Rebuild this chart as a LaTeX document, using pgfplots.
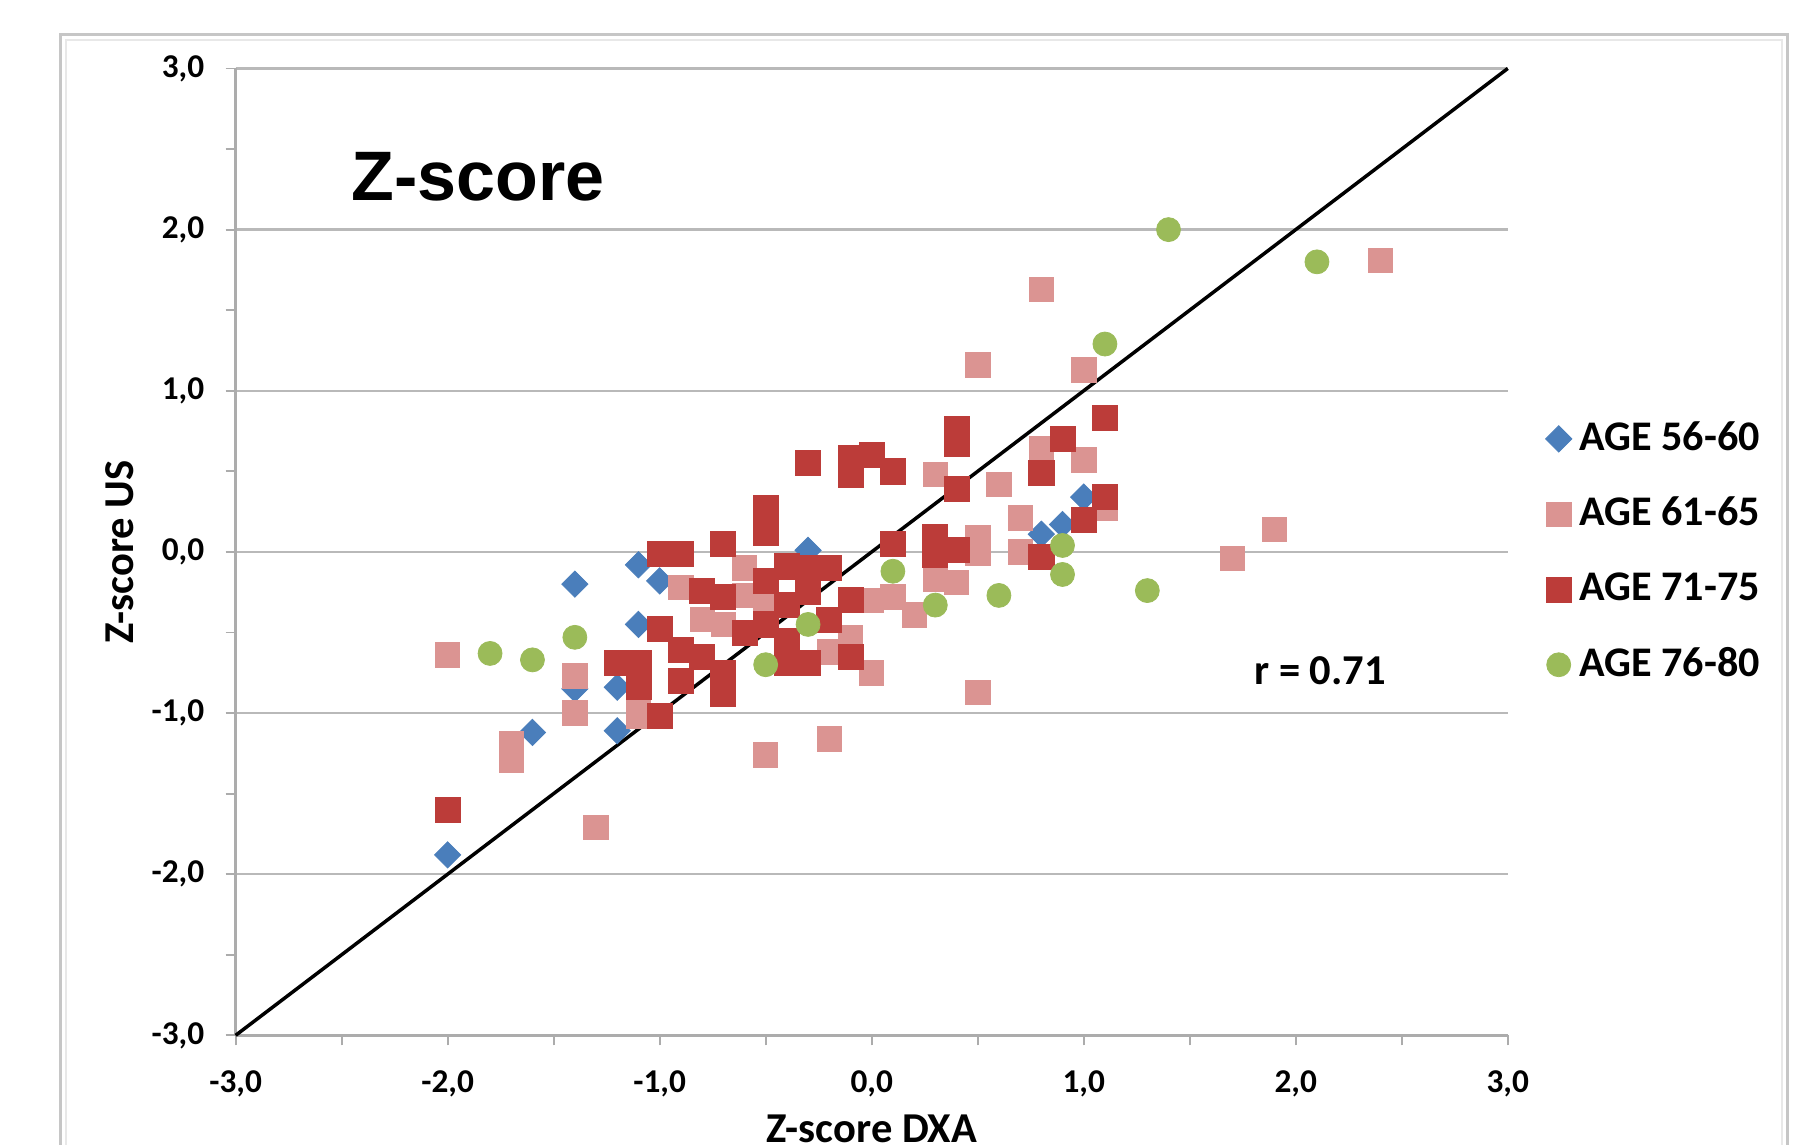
\documentclass[border=0pt]{standalone}
\usepackage{pgfplots}
\pgfplotsset{compat=1.18}
\usepackage{fontspec}
\setmainfont{Carlito}
\newfontfamily\arialfont{Liberation Sans}
\definecolor{bluec}{RGB}{74,126,187}
\definecolor{pinkc}{RGB}{219,148,146}
\definecolor{redc}{RGB}{188,60,57}
\definecolor{greenc}{RGB}{155,187,89}

\begin{document}
\begin{tikzpicture}[x=1pt,y=1pt]
\begin{scope}
\clip (0,0) rectangle (470.4,295.8);
\fill[white] (0,0) rectangle (470.4,295.8);
% chart frame
\draw[gray!45, line width=0.8pt] (15.6,-10) rectangle (462,286.8);
\draw[gray!18, line width=0.6pt] (17,-10) rectangle (460.6,285.4);

\begin{axis}[
    at={(60.9pt,28.2pt)}, anchor=south west,
    scale only axis,
    width=328.8pt, height=249.9pt,
    xmin=-3, xmax=3, ymin=-3, ymax=3,
    axis lines*=left,
    axis line style={gray!65, line width=0.6pt},
    xtick={-3,-2,...,3},
    ytick={-3,-2,...,3},
    minor xtick={-2.5,-1.5,...,2.5},
    minor ytick={-2.5,-1.5,...,2.5},
    xticklabels={{-3,0},{-2,0},{-1,0},{0,0},{1,0},{2,0},{3,0}},
    yticklabels={{-3,0},{-2,0},{-1,0},{0,0},{1,0},{2,0},{3,0}},
    tick align=outside,
    major tick length=2.6pt, minor tick length=2.6pt,
    tick style={gray!65, line width=0.5pt},
    ymajorgrids,
    major grid style={gray!55, line width=0.6pt},
    ticklabel style={font=\bfseries\fontsize{8.6}{10}\selectfont, text=black},
    xticklabel style={yshift=-3pt},
    yticklabel style={xshift=-2pt},
    clip=false,
    legend style={at={(1.020,0.5)}, anchor=west, draw=none, fill=none,
        font=\bfseries\fontsize{10.9}{13}\selectfont, row sep=6.6pt,
        cells={anchor=west}},
    legend image code/.code={\draw[mark repeat=2,mark phase=2,#1] plot coordinates {(0cm,0cm) (0.13cm,0cm) (0.26cm,0cm)};},
]

% AGE 56-60
\addplot[only marks, color=bluec, mark=square*, mark size=2.4pt,
    mark options={rotate=45, line width=0.2pt}] coordinates {
    (-2.0,-1.88) (-1.6,-1.12) (-1.4,-0.20) (-1.4,-0.85) (-1.2,-0.84)
    (-1.2,-1.11) (-1.1,-0.08) (-1.1,-0.45) (-1.0,-0.18) (-0.3,0.01)
    (0.8,0.11) (0.9,0.17) (1.0,0.34)
};
\addlegendentry{AGE 56-60}

% AGE 61-65
\addplot[only marks, color=pinkc, mark=square*, mark size=3.15pt,
    mark options={line width=0.2pt}] coordinates {
    (-2.0,-0.64) (-1.7,-1.19) (-1.7,-1.29) (-1.4,-0.77) (-1.4,-1.00)
    (-1.3,-1.71) (-1.1,-0.92) (-1.1,-1.02) (-0.9,-0.22) (-0.6,-0.10)
    (-0.6,-0.27) (-0.5,-0.34) (-0.8,-0.42) (-0.7,-0.45) (-0.1,-0.55)
    (-0.2,-0.62) (-0.1,-0.53) (0.0,-0.30) (0.1,-0.28) (0.2,-0.39)
    (0.0,-0.75) (-0.2,-1.16) (-0.5,-1.26) (0.3,0.48) (0.3,-0.17)
    (0.4,-0.19) (0.5,0.09) (0.5,-0.01) (0.5,-0.87) (0.5,1.16)
    (0.6,0.42) (0.7,0.21) (0.7,0.00) (0.8,0.64) (0.8,1.63)
    (1.0,0.57) (1.0,1.13) (1.1,0.27) (1.7,-0.04) (1.9,0.14)
    (2.4,1.81)
};
\addlegendentry{AGE 61-65}

% AGE 71-75
\addplot[only marks, color=redc, mark=square*, mark size=3.25pt,
    mark options={line width=0.2pt}] coordinates {
    (-2.0,-1.60) (-1.2,-0.69) (-1.1,-0.69) (-1.1,-0.84) (-1.0,-1.02)
    (-1.0,-0.48) (-1.0,-0.01) (-0.9,-0.01) (-0.7,0.05) (-0.5,0.27)
    (-0.5,0.12) (-0.5,-0.18) (-0.4,-0.09) (-0.4,-0.33) (-0.3,-0.10)
    (-0.3,-0.25) (-0.2,-0.10) (-0.8,-0.24) (-0.7,-0.28) (-0.1,-0.30)
    (-0.2,-0.42) (-0.9,-0.61) (-0.9,-0.80) (-0.8,-0.65) (-0.7,-0.75)
    (-0.7,-0.88) (-0.6,-0.50) (-0.5,-0.45) (-0.4,-0.55) (-0.4,-0.69)
    (-0.3,-0.69) (-0.1,-0.65) (-0.3,0.55) (-0.1,0.58) (-0.1,0.48)
    (0.0,0.60) (0.1,0.50) (0.1,0.05) (0.3,0.09) (0.3,-0.02)
    (0.4,0.01) (0.4,0.76) (0.4,0.67) (0.4,0.39) (0.8,0.49)
    (0.8,-0.03) (0.9,0.70) (1.0,0.20) (1.1,0.34) (1.1,0.83)
};
\addlegendentry{AGE 71-75}

% AGE 76-80
\addplot[only marks, color=greenc, mark=*, mark size=3.1pt,
    mark options={line width=0.2pt}] coordinates {
    (-1.8,-0.63) (-1.6,-0.67) (-1.4,-0.53) (-0.5,-0.70) (-0.3,-0.45)
    (0.1,-0.12) (0.3,-0.33) (0.6,-0.27) (0.9,0.04) (0.9,-0.14)
    (1.1,1.29) (1.3,-0.24) (1.4,2.00) (2.1,1.80)
};
\addlegendentry{AGE 76-80}

% identity line
\addplot[black, line width=0.9pt, forget plot] coordinates {(-3,-3) (3,3)};

\end{axis}

\node[anchor=west, inner sep=0pt] at (90.6,250.2)
    {\arialfont\bfseries\fontsize{18.1}{21}\selectfont Z-score};
\node[rotate=90, inner sep=0pt] at (30.9,153.15)
    {\bfseries\fontsize{11}{13}\selectfont Z-score US};
\node[anchor=base, inner sep=0pt] at (225.3,0.6)
    {\bfseries\fontsize{11}{13}\selectfont Z-score DXA};
\node[anchor=west, inner sep=0pt] at (324,122.4)
    {\bfseries\fontsize{11}{13}\selectfont r = 0.71};
\end{scope}
\pgfresetboundingbox
\useasboundingbox (0,0) rectangle (470.4,295.8);
\end{tikzpicture}
\end{document}
